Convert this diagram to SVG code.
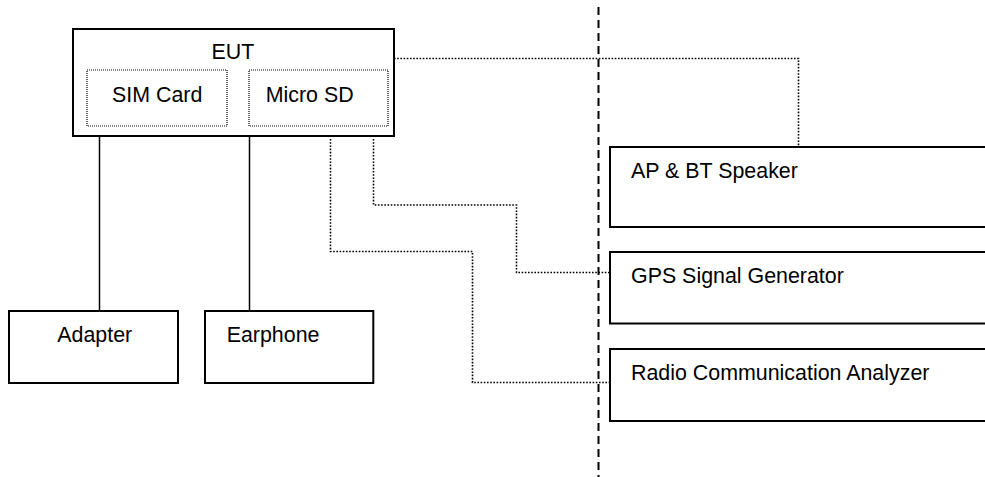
<svg xmlns="http://www.w3.org/2000/svg" width="985" height="477" viewBox="0 0 985 477">
<style>
.box{fill:#fff;stroke:#000;stroke-width:2}
.inner{fill:none;stroke:#000;stroke-width:1.2;stroke-dasharray:1 1}
.t{font-family:"Liberation Sans",Arial,sans-serif;font-size:21.4px;fill:#000}
.solid{fill:none;stroke:#000;stroke-width:1.5}
.dot{fill:none;stroke:#000;stroke-width:1.6;stroke-dasharray:1.6 1.6}
.dash{fill:none;stroke:#000;stroke-width:2;stroke-dasharray:8 5}
</style>
<rect width="985" height="477" fill="#fff"/>
<g id="connectors">
<line class="dash" x1="598.5" y1="7" x2="598.5" y2="477"/>
<polyline class="dot" points="394,58.5 798.5,58.5 798.5,146"/>
<polyline class="dot" points="330.5,139 330.5,251.5 472.5,251.5 472.5,382.5 610,382.5"/>
<polyline class="dot" points="373.5,139 373.5,205 516.5,205 516.5,272.5 610,272.5"/>
<line class="solid" x1="99.5" y1="136" x2="99.5" y2="311"/>
<line class="solid" x1="249.5" y1="136" x2="249.5" y2="311"/>
</g>
<g id="eut">
<rect class="box" x="73" y="29" width="321" height="107"/>
<text class="t" x="233" y="59.3" text-anchor="middle">EUT</text>
</g>
<g id="sim">
<rect class="inner" x="87" y="70" width="140" height="56"/>
<text class="t" x="112" y="101.7">SIM Card</text>
</g>
<g id="microsd">
<rect class="inner" x="249" y="70" width="139" height="56"/>
<text class="t" x="265.7" y="101.7">Micro SD</text>
</g>
<g id="adapter">
<rect class="box" x="9" y="311" width="169" height="72"/>
<text class="t" x="57.3" y="341.7">Adapter</text>
</g>
<g id="earphone">
<rect class="box" x="205" y="311" width="168.3" height="72"/>
<text class="t" x="226.7" y="341.7">Earphone</text>
</g>
<g id="ap">
<rect class="box" x="610" y="147" width="390" height="80"/>
<text class="t" x="631" y="178.3">AP &amp; BT Speaker</text>
</g>
<g id="gps">
<rect class="box" x="610" y="252" width="390" height="71.5"/>
<text class="t" x="631" y="283.3">GPS Signal Generator</text>
</g>
<g id="radio">
<rect class="box" x="610" y="349" width="390" height="72"/>
<text class="t" x="631" y="380">Radio Communication Analyzer</text>
</g>
</svg>
